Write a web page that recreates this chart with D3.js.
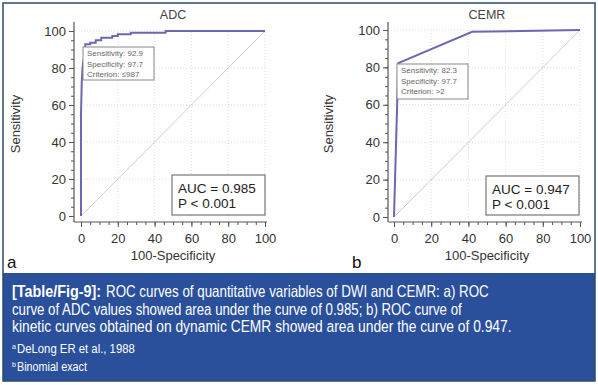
<!DOCTYPE html>
<html>
<head>
<meta charset="utf-8">
<script src="https://cdn.jsdelivr.net/npm/d3@7"></script>
<style>
  body { margin: 0; background: #fff; }
  text { font-family: "Liberation Sans", Arial, sans-serif; }
</style>
</head>
<body>
<svg id="fig" width="598" height="385"></svg>
<script>
// ROC points (100-Specificity, Sensitivity)
const adcFpr  = [0, 0, 0.4, 0.8, 1.2, 1.6, 2.3, 2.3, 5, 5, 8, 8, 11, 11, 17, 17, 20, 20, 27, 27, 46, 46, 100];
const adcSens = [0, 55, 72, 80, 83, 85, 85, 92.9, 92.9, 93.6, 93.6, 95, 95, 96.3, 96.3, 97.3, 97.3, 98.3, 98.3, 99, 99, 100, 100];
const cemrFpr  = [0, 2.3, 42, 100];
const cemrSens = [0, 82.3, 99, 100];

const ticks = [0, 20, 40, 60, 80, 100];
const minorTicks = d3.range(0, 101, 5);

const panels = [
  { title: "ADC", letter: "a", fpr: adcFpr, sens: adcSens,
    x0: 81, x1: 265, y0: 216, y1: 31, axisX: 74, axisY: 222, top: 22,
    note: ["Sensitivity: 92.9", "Specificity: 97.7", "Criterion: \u2264987"],
    noteBox: [83, 47, 71, 33],
    auc: ["AUC = 0.985", "P < 0.001"], aucBox: [172, 175, 93, 40],
    ylabX: 15, letterX: 7 },
  { title: "CEMR", letter: "b", fpr: cemrFpr, sens: cemrSens,
    x0: 394, x1: 580, y0: 217, y1: 30, axisX: 388, axisY: 222, top: 22,
    note: ["Sensitivity: 82.3", "Specificity: 97.7", "Criterion: >2"],
    noteBox: [397, 64, 71, 35],
    auc: ["AUC = 0.947", "P < 0.001"], aucBox: [486, 176, 93, 39],
    ylabX: 328, letterX: 352 }
];

const svg = d3.select("#fig");

panels.forEach(function (p) {
  const x = d3.scaleLinear().domain([0, 100]).range([p.x0, p.x1]);
  const y = d3.scaleLinear().domain([0, 100]).range([p.y0, p.y1]);
  const g = svg.append("g");

  // grid
  g.selectAll(".vg").data(ticks.slice(1)).enter().append("line")
    .attr("x1", d => x(d)).attr("x2", d => x(d))
    .attr("y1", y(0)).attr("y2", y(100))
    .attr("stroke", "#d4d4d4").attr("stroke-width", 0.8).attr("stroke-dasharray", "1,2");
  g.selectAll(".hg").data(ticks.slice(1)).enter().append("line")
    .attr("x1", x(0)).attr("x2", x(100))
    .attr("y1", d => y(d)).attr("y2", d => y(d))
    .attr("stroke", "#d4d4d4").attr("stroke-width", 0.8).attr("stroke-dasharray", "1,2");

  // axes (offset from the plot area)
  const xAxis = d3.axisBottom(x).tickValues(ticks).tickSize(5).tickPadding(4);
  const xMinor = d3.axisBottom(x).tickValues(minorTicks).tickSize(3).tickFormat("");
  const yAxis = d3.axisLeft(y).tickValues(ticks).tickSize(5).tickPadding(3);
  const yMinor = d3.axisLeft(y).tickValues(minorTicks).tickSize(3).tickFormat("");

  function styleAxis(sel) {
    sel.select(".domain").remove();
    sel.selectAll("line").attr("stroke", "#555");
    sel.selectAll("text").attr("fill", "#333").style("font-size", "13px")
      .style("font-family", "'Liberation Sans', Arial, sans-serif");
  }
  g.append("g").attr("transform", `translate(0,${p.axisY})`).call(xMinor).call(styleAxis);
  g.append("g").attr("transform", `translate(0,${p.axisY})`).call(xAxis).call(styleAxis)
    .selectAll("text").attr("dy", "0.9em");
  g.append("g").attr("transform", `translate(${p.axisX},0)`).call(yMinor).call(styleAxis);
  g.append("g").attr("transform", `translate(${p.axisX},0)`).call(yAxis).call(styleAxis);

  g.append("line").attr("x1", p.axisX).attr("x2", x(100) + 2)
    .attr("y1", p.axisY).attr("y2", p.axisY).attr("stroke", "#555").attr("stroke-width", 1.2);
  g.append("line").attr("x1", p.axisX).attr("x2", p.axisX)
    .attr("y1", p.top).attr("y2", p.axisY).attr("stroke", "#555").attr("stroke-width", 1.2);

  // diagonal reference
  g.append("line").attr("x1", x(0)).attr("y1", y(0)).attr("x2", x(100)).attr("y2", y(100))
    .attr("stroke", "#cfc8d6").attr("stroke-width", 1);

  // ROC curve
  const pts = p.fpr.map((f, i) => [f, p.sens[i]]);
  g.append("path").datum(pts)
    .attr("d", d3.line().x(d => x(d[0])).y(d => y(d[1])))
    .attr("fill", "none").attr("stroke", "#6a68b0").attr("stroke-width", 2);

  // criterion note
  const nb = p.noteBox;
  g.append("rect").attr("x", nb[0]).attr("y", nb[1]).attr("width", nb[2]).attr("height", nb[3])
    .attr("fill", "#fff").attr("stroke", "#888").attr("stroke-width", 1);
  g.selectAll(".note").data(p.note).enter().append("text")
    .attr("x", nb[0] + 4).attr("y", (d, i) => nb[1] + 9 + i * 10.5)
    .attr("fill", "#666").style("font-size", "8px").text(d => d);

  // AUC box
  const ab = p.aucBox;
  g.append("rect").attr("x", ab[0]).attr("y", ab[1]).attr("width", ab[2]).attr("height", ab[3])
    .attr("fill", "#fff").attr("stroke", "#777").attr("stroke-width", 1.2);
  g.selectAll(".auc").data(p.auc).enter().append("text")
    .attr("x", ab[0] + 6).attr("y", (d, i) => ab[1] + 18 + i * 15)
    .attr("fill", "#222").style("font-size", "13.5px").text(d => d);

  // titles and labels
  g.append("text").attr("x", (p.x0 + p.x1) / 2).attr("y", 19).attr("text-anchor", "middle")
    .attr("fill", "#444").style("font-size", "12.5px").text(p.title);
  g.append("text").attr("x", (p.x0 + p.x1) / 2).attr("y", 260).attr("text-anchor", "middle")
    .attr("fill", "#333").style("font-size", "13px").text("100-Specificity");
  g.append("text").attr("transform", `translate(${p.ylabX + 5},124) rotate(-90)`)
    .attr("text-anchor", "middle").attr("fill", "#333").style("font-size", "13px").text("Sensitivity");
  g.append("text").attr("x", p.letterX).attr("y", 268)
    .attr("fill", "#111").style("font-size", "17px").text(p.letter);
});

// caption
const capLines = [
  "ROC curves of quantitative variables of DWI and CEMR: a) ROC",
  "curve of ADC values showed area under the curve of 0.985; b) ROC curve of",
  "kinetic curves obtained on dynamic CEMR showed area under the curve of 0.947."
];
const capStarts = [106, 12, 12];
const capEnds = [489, 462, 512];
const notes = [["a", "DeLong ER et al., 1988"], ["b", "Binomial exact"]];
const noteEnds = [135, 87];

svg.append("rect").attr("x", 3).attr("y", 273).attr("width", 592).attr("height", 108)
  .attr("fill", "#2a4f9b");

const cap = svg.append("g").attr("fill", "#fff");

// squeeze a text horizontally so it spans [x0, x1] (the caption font is condensed)
function fitText(x0, x1, yb, size, str, bold) {
  const t = cap.append("text").attr("x", 0).attr("y", 0)
    .style("font-size", size + "px").style("font-weight", bold ? "bold" : null).text(str);
  const w = t.node().getComputedTextLength();
  t.attr("transform", `translate(${x0},${yb}) scale(${(x1 - x0) / w},1)`);
  return t;
}

fitText(12, 101, 297, 16.5, "[Table/Fig-9]:", true);
capLines.forEach(function (line, i) {
  fitText(capStarts[i], capEnds[i], 297 + i * 17.5, 16.5, line, false);
});
notes.forEach(function (n, i) {
  cap.append("text").attr("x", 12).attr("y", 349 + i * 18).style("font-size", "7px").text(n[0]);
  fitText(17, noteEnds[i], 353 + i * 18, 12.5, n[1], false);
});

// outer frame
svg.append("rect").attr("x", 3).attr("y", 3).attr("width", 592).attr("height", 378)
  .attr("fill", "none").attr("stroke", "#2d4a6e").attr("stroke-width", 1.5);
</script>
</body>
</html>
